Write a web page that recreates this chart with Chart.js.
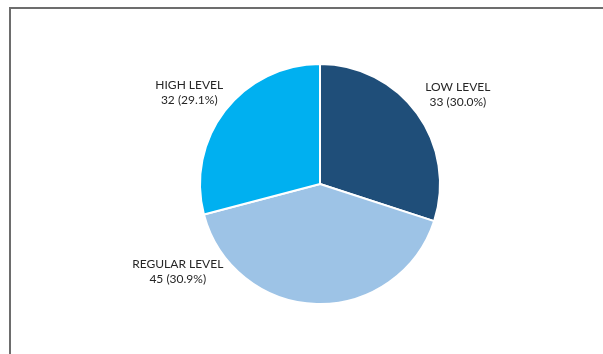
<!DOCTYPE html>
<html lang="en">
<head>
  <meta charset="UTF-8" />
  <title>Level Distribution</title>
  <script src="https://cdn.jsdelivr.net/npm/chart.js"></script>
  <style>
    html, body { margin: 0; padding: 0; background: #fff; overflow: hidden; }
    .wrap { position: relative; width: 603px; height: 354px; }
    .frame {
      position: absolute; left: 9px; top: 7px; width: 700px; height: 400px;
      border-left: 2px solid #6d6d6d; border-top: 2px solid #6d6d6d;
    }
    canvas { position: absolute; left: 0; top: 0; }
  </style>
</head>
<body>
  <div class="wrap">
    <div class="frame"></div>
    <canvas id="pie" width="603" height="354"></canvas>
  </div>

  <script>
    // Slice data (clockwise from 12 o'clock)
    const categories = ['LOW LEVEL', 'REGULAR LEVEL', 'HIGH LEVEL'];
    const counts = [33, 45, 32];
    const percentLabels = ['30.0%', '30.9%', '29.1%'];
    const sliceColors = ['#1f4e79', '#9dc3e6', '#00b0f0'];

    // label placement around the pie: angle (deg, 0 = right, clockwise) and distance in radii
    const labelSpots = [
      { angle: -33, dist: 1.37 },
      { angle: 148.5, dist: 1.39 },
      { angle: 215, dist: 1.33 }
    ];

    const outsideLabels = {
      id: 'outsideLabels',
      afterDatasetsDraw(chart) {
        const ctx = chart.ctx;
        const arc = chart.getDatasetMeta(0).data[0];
        const cx = arc.x, cy = arc.y, r = arc.outerRadius;
        ctx.save();
        ctx.font = '12px Lato, "Noto Sans", sans-serif';
        ctx.fillStyle = '#262626';
        ctx.textAlign = 'center';
        ctx.textBaseline = 'middle';
        categories.forEach((name, i) => {
          const a = labelSpots[i].angle * Math.PI / 180;
          const x = cx + Math.cos(a) * r * labelSpots[i].dist;
          const y = cy + Math.sin(a) * r * labelSpots[i].dist;
          ctx.fillText(name, x, y - 7.5);
          ctx.fillText(counts[i] + ' (' + percentLabels[i] + ')', x, y + 7.5);
        });
        ctx.restore();
      }
    };

    new Chart(document.getElementById('pie'), {
      type: 'pie',
      data: {
        labels: categories,
        datasets: [{
          data: counts,
          backgroundColor: sliceColors,
          borderColor: '#ffffff',
          borderWidth: 2
        }]
      },
      options: {
        responsive: false,
        animation: false,
        layout: { padding: { left: 199, right: 162, top: 63, bottom: 49 } },
        plugins: { legend: { display: false }, tooltip: { enabled: false } }
      },
      plugins: [outsideLabels]
    });
  </script>
</body>
</html>
